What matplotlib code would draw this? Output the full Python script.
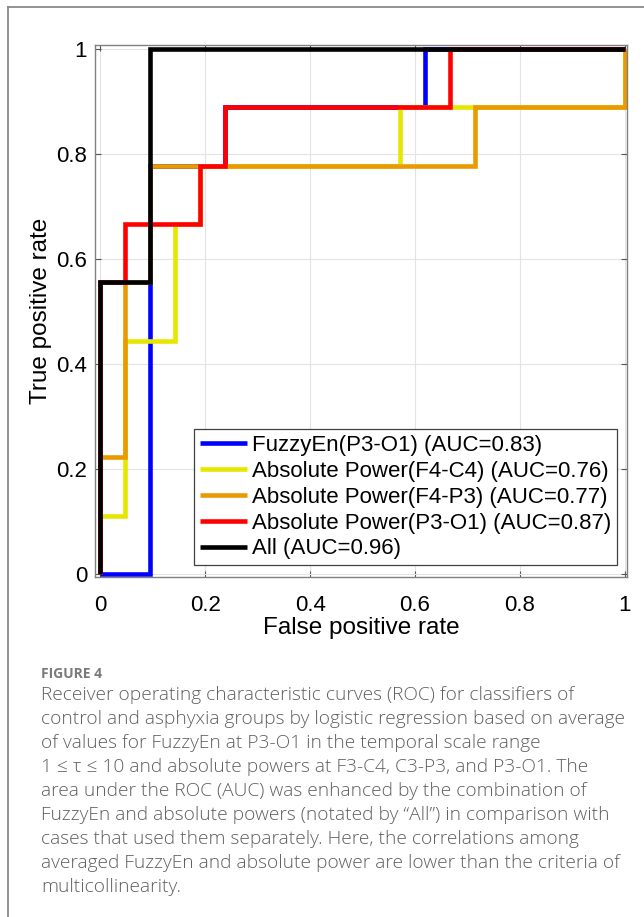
import matplotlib
matplotlib.use("Agg")
import matplotlib.pyplot as plt
from matplotlib.lines import Line2D

# ---- data (FPR steps of 1/21, TPR steps of 1/9) ----
labels = ["FuzzyEn(P3-O1) (AUC=0.83)",
          "Absolute Power(F4-C4) (AUC=0.76)",
          "Absolute Power(F4-P3) (AUC=0.77)",
          "Absolute Power(P3-O1) (AUC=0.87)",
          "All (AUC=0.96)"]
colors = ["#0000ff", "#e6e600", "#e89a00", "#ff0000", "#000000"]

fpr_fuzzy = [0, 0.095, 0.095, 0.238, 0.238, 0.619, 0.619, 1]
tpr_fuzzy = [0, 0, 0.778, 0.778, 0.889, 0.889, 1, 1]

fpr_f4c4 = [0, 0, 0.048, 0.048, 0.143, 0.143, 0.190, 0.190, 0.571, 0.571, 1, 1]
tpr_f4c4 = [0, 0.111, 0.111, 0.444, 0.444, 0.667, 0.667, 0.778, 0.778, 0.889, 0.889, 1]

fpr_f4p3 = [0, 0, 0.048, 0.048, 0.095, 0.095, 0.714, 0.714, 1, 1]
tpr_f4p3 = [0, 0.222, 0.222, 0.556, 0.556, 0.778, 0.778, 0.889, 0.889, 1]

fpr_p3o1 = [0, 0, 0.048, 0.048, 0.190, 0.190, 0.238, 0.238, 0.667, 0.667, 1]
tpr_p3o1 = [0, 0.556, 0.556, 0.667, 0.667, 0.778, 0.778, 0.889, 0.889, 1, 1]

fpr_all = [0, 0, 0.095, 0.095, 1]
tpr_all = [0, 0.556, 0.556, 1, 1]

ticks = [0, 0.2, 0.4, 0.6, 0.8, 1]
tick_labels = ["0", "0.2", "0.4", "0.6", "0.8", "1"]

caption_title = "FIGURE 4"
caption_lines = [
    "Receiver operating characteristic curves (ROC) for classifiers of",
    "control and asphyxia groups by logistic regression based on average",
    "of values for FuzzyEn at P3-O1 in the temporal scale range",
    "1 \u2264 \u03c4 \u2264 10 and absolute powers at F3-C4, C3-P3, and P3-O1. The",
    "area under the ROC (AUC) was enhanced by the combination of",
    "FuzzyEn and absolute powers (notated by \u201cAll\u201d) in comparison with",
    "cases that used them separately. Here, the correlations among",
    "averaged FuzzyEn and absolute power are lower than the criteria of",
    "multicollinearity.",
]

W, H = 644, 917
fig = plt.figure(figsize=(W / 100, H / 100), dpi=100)

# outer frame lines (top and left)
fig.add_artist(Line2D([8 / W, 1.0], [1 - 7 / H, 1 - 7 / H], color="#8a8a8a", lw=1.3))
fig.add_artist(Line2D([8 / W, 8 / W], [1 - 7 / H, 0.0], color="#8a8a8a", lw=1.3))

ax = fig.add_axes([95.5 / W, 1 - 577 / H, 531.5 / W, 532 / H])
pf = "Liberation Sans"

series = [(fpr_fuzzy, tpr_fuzzy), (fpr_f4c4, tpr_f4c4), (fpr_f4p3, tpr_f4p3),
          (fpr_p3o1, tpr_p3o1), (fpr_all, tpr_all)]
for (x, y), c, lab in zip(series, colors, labels):
    ax.plot(x, y, color=c, lw=3.3, label=lab, solid_joinstyle="miter",
            solid_capstyle="butt")

ax.set_xlim(-0.009, 1.004)
ax.set_ylim(-0.006, 1.008)
ax.set_xticks(ticks)
ax.set_yticks(ticks)
ax.set_xticklabels(tick_labels, fontsize=16, family=pf)
ax.set_yticklabels(tick_labels, fontsize=16, family=pf)
ax.grid(True, color="#e3e3e3", lw=0.8)
ax.set_axisbelow(True)
ax.tick_params(direction="in", length=4, width=0.8, color="#555555",
               top=True, right=True)
ax.tick_params(axis="x", pad=13)
ax.tick_params(axis="y", pad=6)
for s in ax.spines.values():
    s.set_color("#808080")
    s.set_linewidth(1.0)
ax.set_xlabel("False positive rate", fontsize=17.5, family=pf, labelpad=1)
ax.set_ylabel("True positive rate", fontsize=17.5, family=pf, labelpad=3)

leg = ax.legend(loc="lower right", bbox_to_anchor=(0.981, 0.0226),
                borderaxespad=0, prop={"family": pf, "size": 16},
                handlelength=2.1, handletextpad=0.25, labelspacing=0.22,
                borderpad=0.25, fancybox=False, framealpha=1,
                edgecolor="#404040")
leg.get_frame().set_linewidth(0.9)

# caption
cf = "Open Sans"
fig.text(41 / W, 1 - 678 / H, caption_title, fontsize=10, family=cf,
         fontweight="bold", color="#7a7a7a", va="baseline", ha="left")
base0, step = 700, 24
for i, line in enumerate(caption_lines):
    fig.text(41 / W, 1 - (base0 + i * step) / H, line, fontsize=13.8, family=cf,
             fontweight="light", color="#5f5f5f", va="baseline", ha="left")

fig.savefig("out.png", dpi=100)
